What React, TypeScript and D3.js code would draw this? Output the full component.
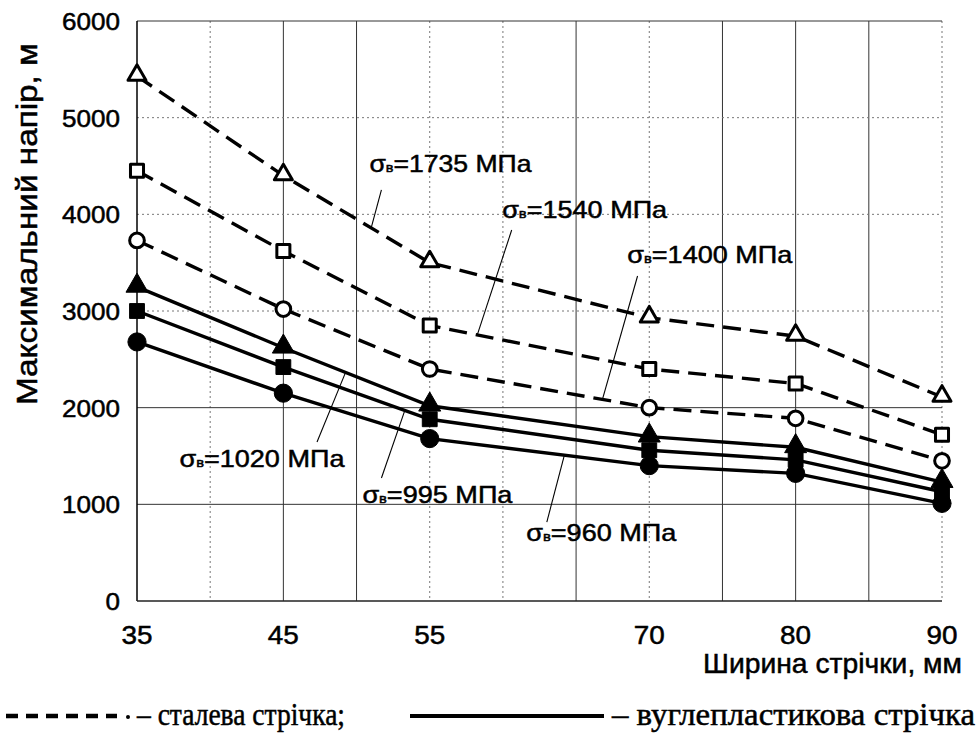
import React from "react";
import * as d3 from "d3";

// ширина стрічки, мм
const widths = [35, 45, 55, 70, 80, 90];

// сталева стрічка (пунктир, порожні маркери)
const steel1735 = [5430, 4400, 3500, 2930, 2740, 2110];
const steel1540 = [4450, 3620, 2850, 2400, 2250, 1720];
const steel1400 = [3730, 3020, 2400, 2000, 1890, 1450];

// вуглепластикова стрічка (суцільна, заповнені маркери)
const carbon1020 = [3250, 2620, 2020, 1700, 1590, 1230];
const carbon995 = [3000, 2420, 1880, 1560, 1460, 1130];
const carbon960 = [2680, 2150, 1680, 1400, 1320, 1010];

const yTicks = [0, 1000, 2000, 3000, 4000, 5000, 6000];
const xTicks = [35, 45, 55, 70, 80, 90];
const xGrid = [40, 45, 50, 55, 60, 65, 70, 75, 80, 85, 90];
const xGridSolid = [45, 50, 65, 75, 80, 85];
const yGridSolid = [1000, 2000, 6000];

type Series = { name: string; values: number[]; dashed: boolean; marker: d3.SymbolType };

const series: Series[] = [
  { name: "1735", values: steel1735, dashed: true, marker: d3.symbolTriangle },
  { name: "1540", values: steel1540, dashed: true, marker: d3.symbolSquare },
  { name: "1400", values: steel1400, dashed: true, marker: d3.symbolCircle },
  { name: "1020", values: carbon1020, dashed: false, marker: d3.symbolTriangle },
  { name: "995", values: carbon995, dashed: false, marker: d3.symbolSquare },
  { name: "960", values: carbon960, dashed: false, marker: d3.symbolCircle },
];

// підписи: положення тексту та виноски в одиницях даних
const notes = [
  { name: "1735", tx: 50.88, ty: 4438, tw: 162, fx: 51.7, fy: 4252, lx: 51.0 },
  { name: "1540", tx: 59.95, ty: 3962, tw: 165, fx: 60.6, fy: 3838, lx: 58.25 },
  { name: "1400", tx: 68.5, ty: 3497, tw: 165, fx: 69.2, fy: 3362, lx: 66.8 },
  { name: "1020", tx: 37.9, ty: 1386, tw: 165, fx: 47.3, fy: 1645, lx: 49.25 },
  { name: "995", tx: 50.4, ty: 1014, tw: 150, fx: 51.7, fy: 1272, lx: 53.3 },
  { name: "960", tx: 61.6, ty: 620, tw: 150, fx: 63.0, fy: 817, lx: 64.2 },
];

const W = 977;
const H = 737;
const left = 137;
const right = 942;
const top = 21;
const bottom = 601;

const sans = "'Liberation Sans', Arial, sans-serif";
const serif = "'Liberation Serif', 'Times New Roman', serif";
// скан виглядає жирнішим — трохи обводимо текст
const ink = { stroke: "#000", strokeWidth: 0.5 };

export default function App() {
  const x = d3.scaleLinear().domain([35, 90]).range([left, right]);
  const y = d3.scaleLinear().domain([0, 6000]).range([bottom, top]);

  const line = d3
    .line<number>()
    .x((_, i) => x(widths[i]))
    .y((d) => y(d));

  const onLine = (name: string, xv: number) => {
    const s = series.find((d) => d.name === name)!;
    const i = Math.max(1, d3.bisectLeft(widths, xv));
    const t = (xv - widths[i - 1]) / (widths[i] - widths[i - 1]);
    return s.values[i - 1] + t * (s.values[i] - s.values[i - 1]);
  };

  return (
    <svg
      width={W}
      height={H}
      style={{ position: "absolute", left: 0, top: 0, background: "#fff" }}
    >
      {/* сітка */}
      {xGrid.map((v) => (
        <line
          key={"gx" + v}
          x1={x(v)}
          x2={x(v)}
          y1={top}
          y2={bottom}
          stroke={xGridSolid.includes(v) ? "#333" : "#777"}
          strokeWidth={1}
          strokeDasharray={xGridSolid.includes(v) ? undefined : "2,3"}
        />
      ))}
      {yTicks.slice(1).map((v) => (
        <line
          key={"gy" + v}
          x1={left}
          x2={right}
          y1={y(v)}
          y2={y(v)}
          stroke={yGridSolid.includes(v) ? "#333" : "#777"}
          strokeWidth={1}
          strokeDasharray={yGridSolid.includes(v) ? undefined : "2,3"}
        />
      ))}
      <line x1={left} x2={left} y1={top} y2={bottom} stroke="#000" strokeWidth={1.5} />
      <line x1={left} x2={right} y1={bottom} y2={bottom} stroke="#222" strokeWidth={1.3} />

      {/* осі */}
      {yTicks.map((v) => (
        <text
          key={"ty" + v}
          x={120}
          y={y(v) + 9}
          fontFamily={sans}
          fontSize={24}
          textAnchor="end"
          textLength={String(v).length * 14.5}
          lengthAdjust="spacingAndGlyphs"
          {...ink}
        >
          {v}
        </text>
      ))}
      {xTicks.map((v) => (
        <text
          key={"tx" + v}
          x={x(v)}
          y={644}
          fontFamily={sans}
          fontSize={25}
          textAnchor="middle"
          textLength={31}
          lengthAdjust="spacingAndGlyphs"
          {...ink}
        >
          {v}
        </text>
      ))}
      <text
        x={703}
        y={673}
        fontFamily={sans}
        fontSize={28}
        textLength={259}
        lengthAdjust="spacingAndGlyphs"
        {...ink}
      >
        Ширина стрічки, мм
      </text>
      <text
        transform="translate(37,405) rotate(-90)"
        fontFamily={sans}
        fontSize={30}
        textLength={362}
        lengthAdjust="spacingAndGlyphs"
        {...ink}
      >
        Максимальний напір, м
      </text>

      {/* лінії */}
      {series.map((s) => (
        <path
          key={"l" + s.name}
          d={line(s.values) || ""}
          fill="none"
          stroke="#000"
          strokeWidth={3.4}
          strokeDasharray={s.dashed ? "18,9" : undefined}
        />
      ))}

      {/* маркери */}
      {series.map((s) =>
        s.values.map((v, i) => {
          const isTri = s.marker === d3.symbolTriangle;
          const isCirc = s.marker === d3.symbolCircle;
          const size = s.dashed ? (isTri ? 140 : isCirc ? 170 : 170) : isTri ? 210 : isCirc ? 260 : 220;
          const path = d3.symbol(s.marker, size)() || "";
          return (
            <path
              key={"m" + s.name + i}
              d={path}
              transform={`translate(${x(widths[i])},${y(v) + (isTri ? -1 : 0)})`}
              fill={s.dashed ? "#fff" : "#000"}
              stroke="#000"
              strokeWidth={s.dashed ? 3 : 1}
              strokeLinejoin="round"
            />
          );
        })
      )}

      {/* підписи */}
      {notes.map((n) => (
        <g key={"n" + n.name}>
          <line
            x1={x(n.fx)}
            y1={y(n.fy)}
            x2={x(n.lx)}
            y2={y(onLine(n.name, n.lx))}
            stroke="#000"
            strokeWidth={1.1}
          />
          <text
            x={x(n.tx)}
            y={y(n.ty)}
            fontFamily={sans}
            fontSize={24}
            textLength={n.tw}
            lengthAdjust="spacingAndGlyphs"
            {...ink}
          >
            <tspan>σ</tspan>
            <tspan fontSize={13}>в</tspan>
            <tspan>{"=" + n.name + " МПа"}</tspan>
          </text>
        </g>
      ))}

      {/* легенда */}
      <line x1={6} x2={117} y1={716} y2={716} stroke="#000" strokeWidth={4.5} strokeDasharray="12,8" />
      <circle cx={128} cy={717} r={2} fill="#000" />
      <text
        x={137}
        y={725}
        fontFamily={serif}
        fontSize={31}
        textLength={208}
        lengthAdjust="spacingAndGlyphs"
        {...ink}
      >
        – сталева стрічка;
      </text>
      <line x1={410} x2={604} y1={716} y2={716} stroke="#000" strokeWidth={4} />
      <text
        x={612}
        y={725}
        fontFamily={serif}
        fontSize={31}
        textLength={363}
        lengthAdjust="spacingAndGlyphs"
        {...ink}
      >
        – вуглепластикова стрічка
      </text>
    </svg>
  );
}
